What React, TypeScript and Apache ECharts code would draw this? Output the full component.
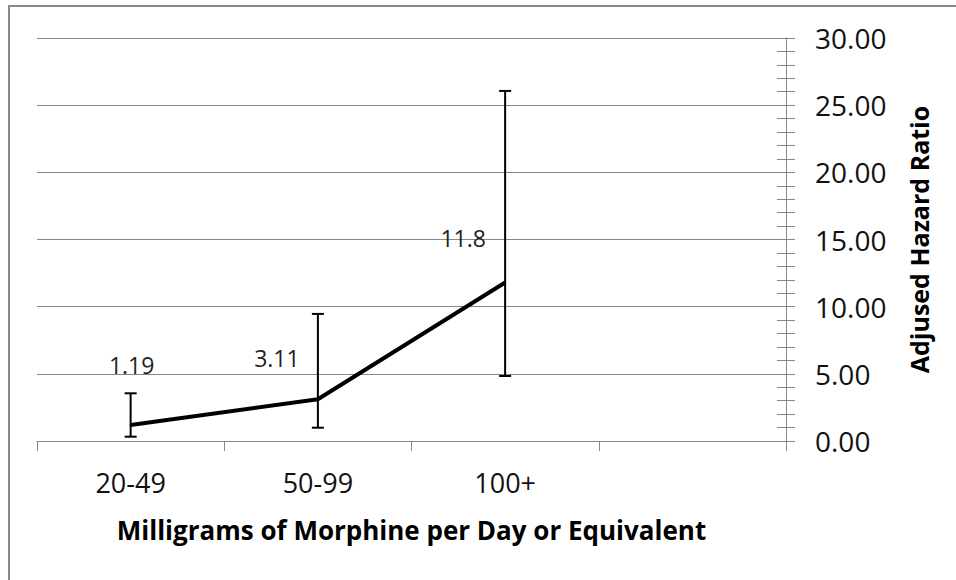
import React, { useEffect, useRef } from "react";
import * as echarts from "echarts";

const categories = ["20-49", "50-99", "100+", ""];
const hazardRatio = [1.19, 3.11, 11.8];
const ciLower = [0.32, 0.99, 4.84];
const ciUpper = [3.55, 9.46, 26.06];
const pointLabels = ["1.19", "3.11", "11.8"];
const labelOffsets = [[1, -60], [-41, -41], [-42, -44]];
const yTicks = { min: 0, max: 30, interval: 5 };

const FONT = "'Open Sans', 'DejaVu Sans', sans-serif";
const GRAY = "#878787";

export default function App() {
  const ref = useRef<HTMLDivElement>(null);
  useEffect(() => {
    if (!ref.current) return;
    const chart = echarts.init(ref.current, undefined, { renderer: "svg" });
    const errData = hazardRatio.map((_, i) => [i, ciLower[i], ciUpper[i]]);
    chart.setOption({
      animation: false,
      backgroundColor: "#ffffff",
      grid: { left: 37, right: 170, top: 38, bottom: 139 },
      graphic: [
        {
          type: "rect",
          shape: { x: 9, y: 6, width: 1200, height: 1200 },
          style: { fill: "none", stroke: "#898989", lineWidth: 2 },
          silent: true,
        },
      ],
      xAxis: {
        type: "category",
        data: categories,
        boundaryGap: true,
        name: "Milligrams of Morphine per Day or Equivalent",
        nameLocation: "middle",
        nameGap: 76,
        nameTextStyle: { fontFamily: FONT, fontSize: 26, fontWeight: "bold", color: "#000" },
        axisLine: { lineStyle: { color: GRAY, width: 1 } },
        axisTick: { show: true, length: 10, interval: 0, lineStyle: { color: GRAY } },
        axisLabel: { fontFamily: FONT, fontSize: 27, color: "#111", margin: 28, interval: 0 },
        splitLine: { show: false },
      },
      yAxis: [
        {
          type: "value",
          position: "right",
          min: yTicks.min,
          max: yTicks.max,
          interval: yTicks.interval,
          name: "Adjused Hazard Ratio",
          nameLocation: "middle",
          nameRotate: 90,
          nameGap: 133,
          nameTextStyle: { fontFamily: FONT, fontSize: 25, fontWeight: "bold", color: "#000", verticalAlign: "middle" },
          axisLine: { show: true, lineStyle: { color: GRAY, width: 1 } },
          axisTick: { show: true, inside: false, length: 9, lineStyle: { color: GRAY } },
          minorTick: { show: true, splitNumber: 5, length: 9, lineStyle: { color: GRAY } },
          axisLabel: {
            fontFamily: FONT,
            fontSize: 28,
            color: "#111",
            margin: 29,
            formatter: (v: number) => v.toFixed(2),
          },
          splitLine: { show: true, lineStyle: { color: GRAY, width: 1 } },
        },
        {
          type: "value",
          position: "right",
          min: yTicks.min,
          max: yTicks.max,
          interval: yTicks.interval,
          axisLine: { show: false },
          axisTick: { show: true, inside: true, length: 9, lineStyle: { color: GRAY } },
          minorTick: { show: true, splitNumber: 5, length: 9, lineStyle: { color: GRAY } },
          axisLabel: { show: false },
          splitLine: { show: false },
        },
      ],
      series: [
        {
          type: "custom",
          yAxisIndex: 0,
          data: errData,
          encode: { x: 0, y: [1, 2] },
          renderItem: (params: any, api: any) => {
            const x = api.value(0);
            const lo = api.coord([x, api.value(1)]);
            const hi = api.coord([x, api.value(2)]);
            const cap = 6;
            const style = { stroke: "#000", lineWidth: 2 };
            return {
              type: "group",
              children: [
                { type: "line", shape: { x1: lo[0], y1: lo[1], x2: hi[0], y2: hi[1] }, style },
                { type: "line", shape: { x1: lo[0] - cap, y1: lo[1], x2: lo[0] + cap, y2: lo[1] }, style },
                { type: "line", shape: { x1: hi[0] - cap, y1: hi[1], x2: hi[0] + cap, y2: hi[1] }, style },
              ],
            };
          },
          z: 3,
        },
        {
          type: "line",
          yAxisIndex: 0,
          data: hazardRatio.map((v, i) => ({
            value: v,
            label: {
              show: true,
              position: "inside",
              offset: labelOffsets[i],
              formatter: pointLabels[i],
            },
          })),
          symbol: "circle",
          symbolSize: 2,
          itemStyle: { color: "#000" },
          lineStyle: { color: "#000", width: 4 },
          label: {
            show: true,
            fontFamily: FONT,
            fontSize: 23,
            color: "#222",
            align: "center",
            verticalAlign: "middle",
          },
          z: 4,
        },
      ],
    });
    return () => chart.dispose();
  }, []);
  return (
    <div
      ref={ref}
      style={{ position: "fixed", left: 0, top: 0, width: 956, height: 580, background: "#fff" }}
    />
  );
}
